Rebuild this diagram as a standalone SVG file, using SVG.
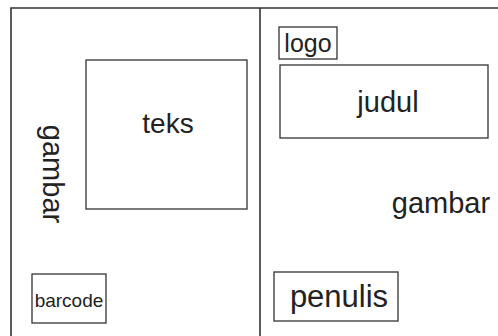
<svg xmlns="http://www.w3.org/2000/svg" width="498" height="336" viewBox="0 0 498 336">
<style>
.box{fill:none;stroke:#333;stroke-width:1.3}
.frame{fill:none;stroke:#333;stroke-width:1.6}
text{font-family:"Liberation Sans",Arial,sans-serif;fill:#222;text-anchor:middle}
</style>
<rect width="498" height="336" fill="#fff"/>
<g id="frame">
<path class="frame" d="M11,340 V8 H500"/>
<line class="frame" x1="260" y1="8" x2="260" y2="340"/>
</g>
<g id="teks">
<rect class="box" x="86" y="60" width="161" height="149"/>
<text x="168" y="133" font-size="28">teks</text>
</g>
<g id="gambar-left">
<text transform="translate(43,174) rotate(90)" font-size="29">gambar</text>
</g>
<g id="barcode">
<rect class="box" x="32" y="274" width="74" height="49"/>
<text x="69" y="307" font-size="19">barcode</text>
</g>
<g id="logo">
<rect class="box" x="279" y="27" width="58" height="32"/>
<text x="308" y="52" font-size="25">logo</text>
</g>
<g id="judul">
<rect class="box" x="280" y="65" width="208" height="73"/>
<text x="388" y="112" font-size="29">judul</text>
</g>
<g id="gambar-right">
<text x="441" y="213" font-size="29">gambar</text>
</g>
<g id="penulis">
<rect class="box" x="274" y="272" width="124" height="49"/>
<text x="339" y="307" font-size="31">penulis</text>
</g>
<g id="connectors"></g>
</svg>
